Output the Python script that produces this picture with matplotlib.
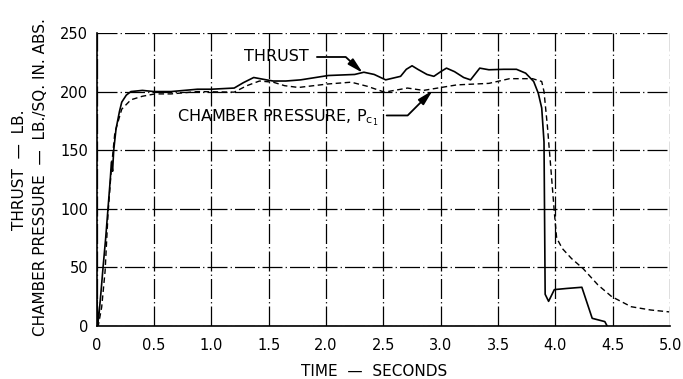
import matplotlib.pyplot as plt

# Thrust (lb) vs time (s)
thrust_t = [0.0, 0.004, 0.012, 0.02, 0.04, 0.057, 0.08, 0.10, 0.12, 0.13, 0.14,
            0.15, 0.17, 0.20, 0.22, 0.26, 0.30, 0.40, 0.50, 0.65, 0.88, 1.0, 1.2,
            1.28, 1.37, 1.48, 1.54, 1.65, 1.78, 2.02, 2.25, 2.33, 2.42, 2.52, 2.65,
            2.70, 2.75, 2.80, 2.88, 2.94, 3.00, 3.05, 3.12, 3.20, 3.26, 3.30, 3.34,
            3.42, 3.55, 3.66, 3.74, 3.81, 3.85, 3.88, 3.90, 3.91, 3.94, 3.99, 4.10,
            4.23, 4.32, 4.43, 4.45]
thrust = [0, 22, 3, 8, 30, 50, 75, 100, 125, 140, 132,
          150, 168, 183, 191, 197, 200, 201, 200, 200, 202, 202, 203,
          207.6, 212, 210, 209, 209, 210, 213.7, 214.6, 216.5, 214.6, 210, 213,
          219, 222, 219, 214.6, 213, 217, 220, 217, 212, 210, 215, 220,
          218.6, 219, 219, 215.7, 208.6, 198.6, 186, 157, 27, 21, 31, 32,
          33, 6.5, 3.7, 0]

# Chamber pressure Pc1 (psia) vs time (s)
pc_t = [0.0, 0.015, 0.045, 0.075, 0.10, 0.13, 0.16, 0.22, 0.30, 0.40, 0.51,
        0.65, 0.88, 1.2, 1.31, 1.42, 1.54, 1.64, 1.76, 2.02, 2.22, 2.36, 2.51,
        2.71, 2.85, 3.14, 3.42, 3.60, 3.80, 3.88, 3.90, 3.93, 3.96, 3.99, 4.01,
        4.06, 4.14, 4.24, 4.37, 4.49, 4.66, 4.83, 4.99]
pc = [0, 0, 16, 47, 95, 135, 165, 185, 193, 196, 198,
      198, 200, 199.5, 205, 209, 208, 205, 203.5, 206.5, 208, 204.5, 199.5,
      203, 201, 205.7, 207, 211, 211, 208.6, 200, 170, 134, 97, 75,
      66, 57.5, 49, 35, 25, 16.4, 13.6, 12]

x_ticks = [0, 0.5, 1.0, 1.5, 2.0, 2.5, 3.0, 3.5, 4.0, 4.5, 5.0]
x_labels = ["0", "0.5", "1.0", "1.5", "2.0", "2.5", "3.0", "3.5", "4.0", "4.5", "5.0"]
y_ticks = [0, 50, 100, 150, 200, 250]

fig = plt.figure(figsize=(6.83, 3.79), dpi=100)
ax = fig.add_axes([0.1413, 0.140, 0.840, 0.773])

ax.plot(thrust_t, thrust, color="black", lw=1.2, zorder=3,
        solid_joinstyle="round")
ax.plot(pc_t, pc, color="black", lw=1.0, dashes=(4, 2.5), zorder=3)

ax.set_xlim(0, 5.0)
ax.set_ylim(0, 250)
ax.set_xticks(x_ticks)
ax.set_xticklabels(x_labels)
ax.set_yticks(y_ticks)
ax.tick_params(axis="both", length=0, labelsize=10.5)
ax.tick_params(axis="x", pad=9)
ax.tick_params(axis="y", pad=6)

# broken-looking grid
ax.grid(True, color="black", lw=0.9, linestyle=(0, (16, 2.5, 1, 2.5)))
for side in ["top", "right"]:
    ax.spines[side].set_visible(False)
for side in ["left", "bottom"]:
    ax.spines[side].set_linewidth(1.2)

# curve labels with leaders
ax.annotate("THRUST", xy=(2.32, 216), xytext=(1.284, 229.5),
            fontsize=11.5, ha="left", va="center",
            arrowprops=dict(arrowstyle="-|>,head_length=0.8,head_width=0.2",
                            color="black", lw=1.3, shrinkA=4, shrinkB=0,
                            relpos=(1, 0.5),
                            connectionstyle="angle,angleA=0,angleB=-43,rad=0"))
ax.annotate(r"CHAMBER PRESSURE, P$_{\mathrm{c}_{\mathrm{1}}}$", xy=(2.93, 201),
            xytext=(0.70, 177.5),
            fontsize=11.5, ha="left", va="center",
            arrowprops=dict(arrowstyle="-|>,head_length=0.8,head_width=0.2",
                            color="black", lw=1.3, shrinkA=4, shrinkB=0,
                            relpos=(1, 0.62),
                            connectionstyle="angle,angleA=0,angleB=45,rad=0"))

fig.text(0.029, 0.551, "THRUST  —  LB.", rotation=90, fontsize=11,
         ha="center", va="center")
fig.text(0.0586, 0.533, "CHAMBER PRESSURE  —  LB./SQ. IN. ABS.", rotation=90,
         fontsize=11, ha="center", va="center")
fig.text(0.5476, 0.0185, "TIME  —  SECONDS", fontsize=11, ha="center", va="center")

plt.savefig("out.png", dpi=100)
plt.close()
